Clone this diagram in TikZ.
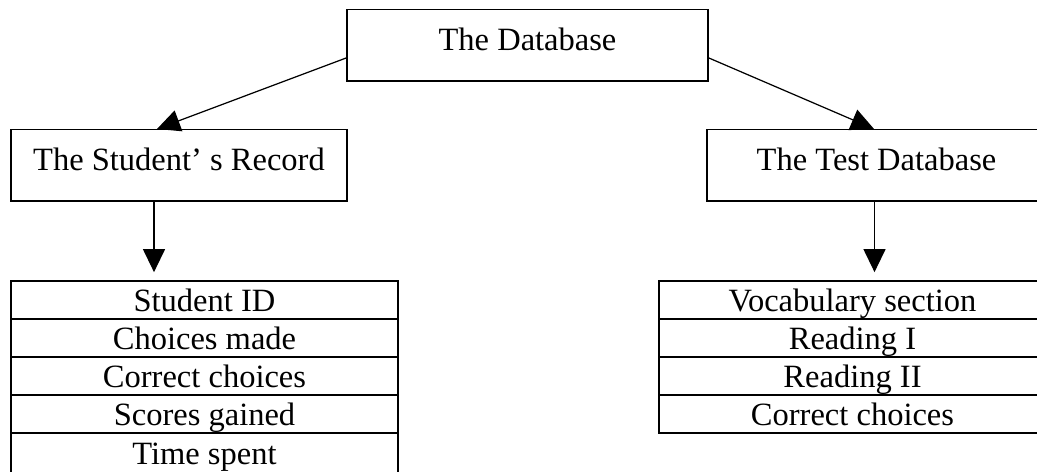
\documentclass[tikz,border=0pt]{standalone}
\usepackage{fontspec}
\setmainfont{Liberation Serif}
\usetikzlibrary{arrows.meta}

\begin{document}
\begin{tikzpicture}[x=0.02cm,y=-0.02cm,
  font=\fontsize{18.5}{22}\selectfont,
  box/.style={draw,line width=0.8pt,inner sep=0pt,minimum height=1.43cm,text height=0.455cm,text depth=0.243cm},
  cell/.style={draw,line width=1pt,inner sep=0pt,minimum width=7.74cm,minimum height=0.76cm,text height=0.455cm,text depth=0cm},
  arr/.style={line width=0.7pt,-{Triangle[length=0.46cm,width=0.44cm]}}]

\useasboundingbox (0,0) rectangle (1037,471);

\node[box,minimum width=7.22cm] (db) at (527.5,45.4) {The Database};
\node[box,minimum width=6.72cm] (sr) at (179,165.4) {The Student’ s Record};
\node[box,minimum width=6.78cm] (tdb) at (876.5,165.4) {The Test Database};

% student record table
\node[cell] (s1) at (204.5,300) {Student ID};
\node[cell] (s2) at (204.5,338) {Choices made};
\node[cell] (s3) at (204.5,376) {Correct choices};
\node[cell] (s4) at (204.5,414) {Scores gained};
\node[cell,minimum height=0.84cm,text depth=0.055cm] (s5) at (204.5,454) {Time spent};

% test table
\node[cell] (t1) at (852.5,300) {Vocabulary section};
\node[cell] (t2) at (852.5,338) {Reading I};
\node[cell] (t3) at (852.5,376) {Reading II};
\node[cell] (t4) at (852.5,414) {Correct choices};

\draw[arr] ([yshift=-0.25cm]db.west) -- ([xshift=-0.44cm]sr.north);
\draw[arr] ([yshift=-0.25cm]db.east) -- ([xshift=-0.05cm]tdb.north);

\draw[arr] ([xshift=-0.5cm]sr.south) -- ([xshift=-0.5cm,yshift=0.16cm]sr.south |- s1.north);
\draw[arr] ([xshift=-0.04cm]tdb.south) -- ([xshift=-0.04cm,yshift=0.16cm]tdb.south |- t1.north);
\end{tikzpicture}
\end{document}
